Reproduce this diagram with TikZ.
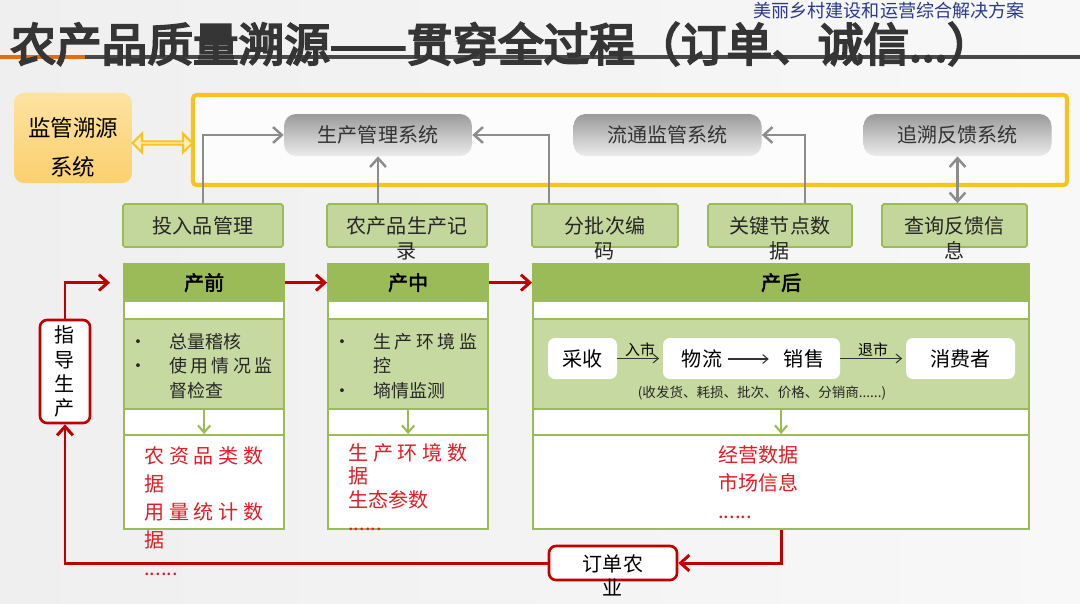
\documentclass[tikz,border=0pt]{standalone}
\usepackage{fontspec}
\setmainfont{Noto Sans CJK SC}[AutoFakeBold=2.5]
\newfontfamily\heavyfont{Noto Sans CJK SC}[FakeBold=4.5]
\usetikzlibrary{arrows.meta,shapes.arrows,positioning}
\definecolor{hdgreen}{HTML}{9BBB59}
\definecolor{ltgreen}{HTML}{C6D9A0}
\definecolor{lblgreen}{HTML}{C3D69B}
\definecolor{darkred}{HTML}{C00000}
\definecolor{datared}{HTML}{E31B23}
\definecolor{framey}{HTML}{F7C31C}
\definecolor{linkfill}{HTML}{FFEFB8}
\definecolor{supTop}{HTML}{FDE2A0}
\definecolor{supBot}{HTML}{FBD06E}
\definecolor{sysdark}{HTML}{9A9A9A}
\definecolor{syslight}{HTML}{ECECEC}
\definecolor{arrowgray}{HTML}{8C8C8C}
\definecolor{titlegray}{HTML}{353535}
\definecolor{lineorange}{HTML}{E46C0A}
\definecolor{subblue}{HTML}{2B3A8C}
\definecolor{bgA}{HTML}{EFEFEF}
\definecolor{bgB}{HTML}{F8F8F8}
\newcommand{\twoline}[2]{\begin{tabular}[t]{@{}c@{}}#1\\#2\end{tabular}}
\newcommand{\itm}{\makebox[0.8cm][l]{•}}
\newcommand{\sprd}[2]{\makebox[#1][s]{#2}}
\begin{document}
\begin{tikzpicture}[x=0.02cm, y=-0.02cm, >={Straight Barb[length=5pt,width=9pt]},
  wh/.style 2 args={minimum width={(#1)*0.02cm}, minimum height={(#2)*0.02cm}},
  txt/.style={font={\fontsize{11.4}{13.7}\selectfont}},
  sysbox/.style={txt, rounded corners=0.24cm, top color=sysdark, bottom color=syslight, text=black!80, wh={188}{42}},
  lbl/.style={txt, draw=hdgreen, fill=lblgreen, line width=1pt, rounded corners=1pt, text=black!85, text depth=0pt, wh={#1}{43}},
  stagebox/.style={draw=hdgreen, fill=white, line width=1.3pt},
  stagehd/.style={draw=hdgreen, fill=hdgreen, line width=1.3pt, font={\fontsize{11.4}{13}\selectfont\bfseries}},
  stagein/.style={draw=hdgreen, fill=ltgreen, line width=1.3pt},
  stagedata/.style={draw=hdgreen, line width=1.3pt},
  bul/.style={inner sep=0pt, align=left, text=black!85, font={\fontsize{10.2}{14}\selectfont}},
  redtext/.style={inner sep=0pt, align=left, text=datared},
  wbox/.style={txt, fill=white, rounded corners=0.14cm},
  redbox/.style={txt, draw=darkred, fill=white, line width=1.5pt, rounded corners=0.14cm},
  garr/.style={->, draw=arrowgray, line width=1.4pt},
  rarr/.style={->, draw=darkred, line width=1.7pt},
  grarr/.style={-{Straight Barb[length=4pt,width=7pt]}, draw=hdgreen, line width=1.2pt},
  tarr/.style={-{Straight Barb[length=3pt,width=5pt]}, draw=black!80, line width=0.6pt, shorten >=2pt}]
  \useasboundingbox (0,0) rectangle (1080,603);
  \fill[left color=bgA, right color=bgB] (0,0) rectangle (1080,603);

  % title bar
  \draw[lineorange, line width=1.8pt] (0,57) -- (85,57);
  \draw[titlegray!90, line width=1.8pt] (85,57) -- (1080,57);
  \node[inner sep=0pt, anchor=west, text=subblue, font={\fontsize{10.3}{12}\selectfont}] (sub) at (753,11) {美丽乡村建设和运营综合解决方案};
  \node[inner sep=0pt, anchor=west, text=titlegray, font={\heavyfont\fontsize{26}{28}\selectfont}] (ttl) at (10,44)
    {农产品质量溯源——贯穿全过程（订单、诚信...）};

  % supervision and system frame
  \node[txt, align=center, rounded corners=0.2cm, top color=supTop, bottom color=supBot, wh={118}{84},
    font={\fontsize{12.8}{22}\selectfont}] (sup) at (73,138) {\rule{0pt}{0.76cm}监管溯源\\系统};
  \node[draw=framey, fill=white!60!bgB, line width=2.3pt, rounded corners=2pt, wh={874}{90}] (frame) at (630,140) {};
  \node[double arrow, draw=framey, fill=linkfill, line width=1.2pt, inner sep=0pt,
    minimum height=1.2cm, minimum width=0.38cm, double arrow head extend=0.1cm] (link) at (162.5,143) {};

  \node[sysbox] (prodsys) at (378,135) {生产管理系统};
  \node[sysbox] (circsys) at (667.5,135) {流通监管系统};
  \node[sysbox] (tracesys) at (957.5,135) {追溯反馈系统};

  \node[lbl=160] (input) at (203,225.5) {投入品管理};
  \node[lbl=160] (record) at (407,225.5) {\twoline{农产品生产记}{录}};
  \node[lbl=146] (batch) at (605,225.5) {\twoline{分批次编}{码}};
  \node[lbl=144] (keynode) at (780,225.5) {\twoline{关键节点数}{据}};
  \node[lbl=145] (query) at (954.5,225.5) {\twoline{查询反馈信}{息}};

  \draw[garr] (input.north) |- (prodsys.west);
  \draw[garr] (prodsys.south |- record.north) -- (prodsys.south);
  \draw[garr] ([xshift=-1.12cm]batch.north) |- (prodsys.east);
  \draw[garr] ([xshift=0.5cm]keynode.north) |- (circsys.east);
  \draw[garr, <->] (tracesys.south |- query.north) -- (tracesys.south);

  % the three stages
  \foreach \n/\l/\r/\t in {pre/123/283/产前, mid/327/487/产中, post/532/1028/产后} {
    \node[stagebox, wh={\r-\l}{265}, anchor=north west] (\n) at (\l,263) {};
    \node[stagehd, wh={\r-\l}{37}, anchor=north west] (\n-hd) at (\l,263) {\t};
    \node[stagein, wh={\r-\l}{90}, anchor=north west] (\n-in) at (\l,318) {};
    \node[stagedata, wh={\r-\l}{94}, anchor=north west] (\n-data) at (\l,434) {};
    \draw[grarr] (\n-in) -- (\n-data);
  }

  \node[bul, anchor=west] (prelist) at (129,366)
    {\itm 总量稽核\\\itm\sprd{2.06cm}{使 用 情 况 监}\\\makebox[0.8cm]{}督检查};
  \node[bul, anchor=west] (midlist) at (333,366)
    {\itm\sprd{2.08cm}{生 产 环 境 监}\\\makebox[0.8cm]{}控\\\itm 墒情监测};

  \node[redtext, anchor=west, font={\fontsize{11.4}{16}\selectfont}] (predata) at (144,511)
    {\sprd{2.38cm}{农 资 品 类 数}\\据\\\sprd{2.38cm}{用 量 统 计 数}\\据\\......};
  \node[redtext, anchor=west, font={\fontsize{11.4}{13.4}\selectfont}] (middata) at (348,487)
    {\sprd{2.38cm}{生 产 环 境 数}\\据\\生态参数\\......};
  \node[redtext, anchor=west, font={\fontsize{11.4}{16}\selectfont}] (postdata) at (718,482)
    {经营数据\\市场信息\\......};

  % circulation chain
  \node[wbox, wh={69}{41}] (harvest) at (582.5,358.5) {采收};
  \node[wbox, wh={177}{41}] (flowbox) at (751.5,358.5) {};
  \node[txt] (logist) at (702,359) {物流};
  \node[txt] (sale) at (804,359) {销售};
  \node[wbox, wh={109}{41}] (consumer) at (960.5,358.5) {消费者};
  \draw[tarr, shorten >=0.18cm] (logist) -- (sale);
  \draw[tarr] (harvest) -- node[above, inner sep=1pt, font={\fontsize{8.5}{10}\selectfont}] (enter) {入市} (flowbox);
  \draw[tarr] (flowbox) -- node[above, inner sep=1pt, font={\fontsize{8.5}{10}\selectfont}] (leave) {退市} (consumer);
  \node[inner sep=0pt, text=black!85, font={\fontsize{7.7}{9}\selectfont}] (detail) at (762,393)
    {(收发货、耗损、批次、价格、分销商......)};

  % feedback loop
  \node[redbox, text depth=0pt, wh={128}{34}] (order) at (613,563) {\twoline{订单农}{业}};
  \node[redbox, align=center, wh={50}{103}] (guide) at (65,371.5) {指\\导\\生\\产};

  \draw[rarr] (pre-hd) -- (mid-hd);
  \draw[rarr] (mid-hd) -- (post-hd);
  \draw[rarr] (post.south) |- (order.east);
  \draw[rarr] (order.west) -| (guide.south);
  \draw[rarr, shorten >=0.26cm] (guide.north) |- (pre-hd.west);
\end{tikzpicture}
\end{document}
